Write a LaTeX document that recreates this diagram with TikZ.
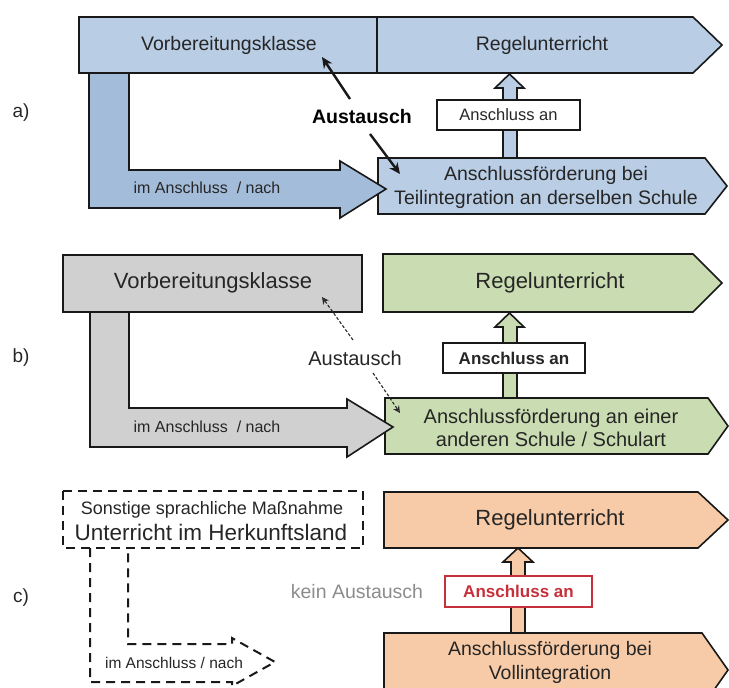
\documentclass[tikz,border=0pt]{standalone}
\usepackage{fontspec}
\setmainfont{Liberation Sans}
\usetikzlibrary{arrows.meta}
\definecolor{bluelight}{HTML}{B9CDE5}
\definecolor{bluedark}{HTML}{A3BCDA}
\definecolor{greenl}{HTML}{CADDB2}
\definecolor{grayl}{HTML}{D0D0D0}
\definecolor{orangel}{HTML}{F8CBA8}
\definecolor{redt}{HTML}{C6303A}
\definecolor{txt}{HTML}{262626}
\definecolor{greytxt}{HTML}{8C8C8C}
\begin{document}
\begin{tikzpicture}[x=1pt,y=-1pt,line join=miter,
  shp/.style={draw=black!90,line width=1.6pt},
  dsh/.style={draw=black!90,line width=2pt,dash pattern=on 9pt off 6pt},
  lbl/.style={inner sep=0pt,align=center,text=txt},
  fA/.style={font=\fontsize{19.5}{24}\selectfont},
  fB/.style={font=\fontsize{22}{26}\selectfont},
  fS/.style={font=\fontsize{16}{18}\selectfont},
  fbold/.style={font=\bfseries\fontsize{17}{20}\selectfont},
  anbox/.style={draw=black!90,line width=1.6pt,fill=white,minimum width=143pt,minimum height=30pt,inner sep=0pt},
  bigarrow/.style={line width=2.4pt,draw=black!90,-{Stealth[length=11pt,width=10pt]}},
  dasharrow/.style={line width=1.1pt,draw=black!85,dash pattern=on 3pt off 2pt,-{Stealth[length=7pt,width=7pt,open]}}
]
\useasboundingbox (0,0) rectangle (729,688);
\clip (0,0) rectangle (729,688);

% ================= a) =================
\draw[shp,fill=bluelight] (503,160) -- (503,88) -- (495,88) -- (509.5,74) -- (524,88) -- (517,88) -- (517,160) -- cycle;
\draw[shp,fill=bluelight] (378,158) -- (705,158) -- (727,186) -- (705,214) -- (378,214) -- cycle;
\draw[shp,fill=bluedark] (89,70) -- (89,208) -- (340,208) -- (340,218) -- (386,189) -- (340,161) -- (340,170) -- (129,170) -- (129,70) -- cycle;
\draw[shp,fill=bluelight] (79,17) rectangle (377,73);
\draw[shp,fill=bluelight] (377,17) -- (693,17) -- (722,45) -- (693,73) -- (377,73) -- cycle;

\node[lbl,fA] (vka) at (229,45) {Vorbereitungsklasse};
\node[lbl,fA] (rua) at (542,45) {Regelunterricht};
\node[lbl,fA] (afa) at (546,187) {Anschlussförderung bei\\Teilintegration an derselben Schule};
\node[lbl,fS] (ima) at (207,188) {im Anschluss\ \ /\ nach};
\node[anbox,font=\fontsize{16.5}{20}\selectfont,text=txt] (ana) at (508.5,115) {Anschluss an};
\node[lbl,font=\bfseries\fontsize{19.5}{24}\selectfont,text=black] (aua) at (362,117) {Austausch};
\node[lbl,font=\fontsize{19}{22}\selectfont] (la) at (21,113) {a)};
\coordinate (a1s) at (350,99);
\coordinate (a1e) at (322,57);
\coordinate (a2s) at (370,134);
\coordinate (a2e) at (400,174);
\draw[bigarrow] (a1s) -- (a1e);
\draw[bigarrow] (a2s) -- (a2e);

% ================= b) =================
\draw[shp,fill=greenl] (503,400) -- (503,327) -- (495,327) -- (509.5,313) -- (524,327) -- (517,327) -- (517,400) -- cycle;
\draw[shp,fill=greenl] (385,398) -- (708,398) -- (728,426) -- (708,454) -- (385,454) -- cycle;
\draw[shp,fill=grayl] (90,308) -- (90,447) -- (347,447) -- (347,457) -- (393,427) -- (347,399) -- (347,408) -- (129,408) -- (129,308) -- cycle;
\draw[shp,fill=grayl] (63,255) rectangle (362,312);
\draw[shp,fill=greenl] (383,254) -- (693,254) -- (722,283) -- (693,312) -- (383,312) -- cycle;

\node[lbl,fB] (vkb) at (213,283) {Vorbereitungsklasse};
\node[lbl,fB] (rub) at (550,283) {Regelunterricht};
\node[lbl,font=\fontsize{20}{23}\selectfont] (afb) at (551,427.5) {Anschlussförderung an einer\\anderen Schule / Schulart};
\node[lbl,fS] (imb) at (207,427) {im Anschluss\ \ /\ nach};
\node[anbox,fbold,text=txt,minimum width=142pt] (anb) at (514,358) {Anschluss an};
\node[lbl,font=\fontsize{20}{24}\selectfont] (aub) at (355,358) {Austausch};
\node[lbl,font=\fontsize{19}{22}\selectfont] (lb) at (21,358) {b)};
\coordinate (b1s) at (353,340);
\coordinate (b1e) at (322,297);
\coordinate (b2s) at (373,373);
\coordinate (b2e) at (400,413);
\draw[dasharrow] (b1s) -- (b1e);
\draw[dasharrow] (b2s) -- (b2e);

% ================= c) =================
\draw[shp,fill=orangel] (511,635) -- (511,562) -- (503,562) -- (518,548) -- (533,562) -- (525,562) -- (525,635) -- cycle;
\draw[shp,fill=orangel] (384,633) -- (702,633) -- (728,670) -- (702,707) -- (384,707) -- cycle;
\draw[shp,fill=orangel] (384,492) -- (698,492) -- (728,520) -- (698,548) -- (384,548) -- cycle;
\draw[dsh] (63,491) rectangle (363,548);
\draw[dsh] (90,548) -- (90,682) -- (232,682) -- (232,686) -- (275,662) -- (232,638) -- (232,644) -- (128,644) -- (128,548);

\node[lbl,fB] (ruc) at (550,520) {Regelunterricht};
\node[lbl,fA] (afc) at (550,662.5) {Anschlussförderung bei\\Vollintegration};
\node[lbl,font=\fontsize{18}{21}\selectfont] (soc) at (212,510) {Sonstige sprachliche Maßnahme};
\node[lbl,font=\fontsize{22.5}{26}\selectfont] (uhc) at (211,532) {Unterricht im Herkunftsland};
\node[lbl,font=\fontsize{15.5}{18}\selectfont] (imc) at (174,663) {im Anschluss / nach};
\node[anbox,fbold,draw=redt,text=redt,minimum width=147pt,minimum height=31pt] (anc) at (518.5,591.5) {Anschluss an};
\node[lbl,font=\fontsize{19.5}{24}\selectfont,text=greytxt] (kac) at (357,592) {kein Austausch};
\node[lbl,font=\fontsize{19}{22}\selectfont] (lc) at (21,598) {c)};
\end{tikzpicture}
\end{document}
